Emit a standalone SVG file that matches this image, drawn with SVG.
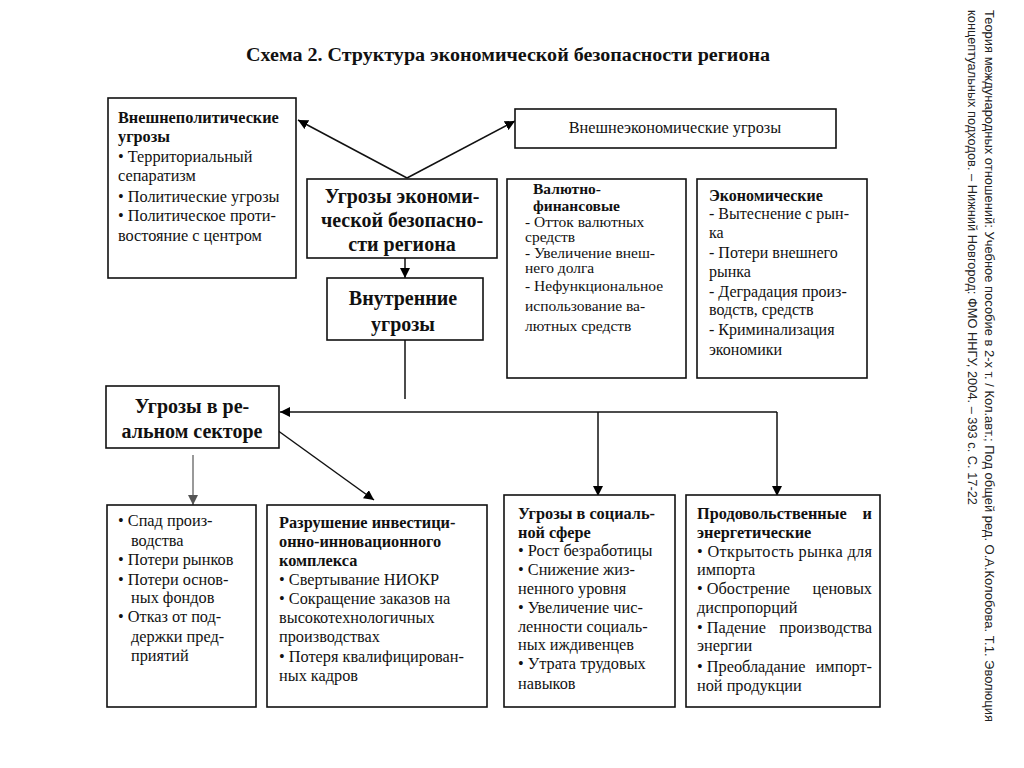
<svg xmlns="http://www.w3.org/2000/svg" width="1024" height="768" viewBox="0 0 1024 768">
<defs>
<marker id="ah" viewBox="0 0 10 10" refX="10" refY="5" markerWidth="10" markerHeight="10" markerUnits="userSpaceOnUse" orient="auto">
<path d="M0,0 L10,5 L0,10 z" fill="#000"/>
</marker>
<marker id="ahg" viewBox="0 0 10 10" refX="10" refY="5" markerWidth="10" markerHeight="10" markerUnits="userSpaceOnUse" orient="auto">
<path d="M0,0 L10,5 L0,10 z" fill="#555"/>
</marker>
</defs>
<style>
text{font-family:"Liberation Serif","Times New Roman",serif;fill:#111;}
.box{fill:#fff;stroke:#111;stroke-width:1.6;}
.t{font-size:16.3px;}
.s{font-size:16px;}
.v{font-size:15.5px;}
.b{font-weight:bold;}
.big{font-size:20px;font-weight:bold;}
.c{text-anchor:middle;}
.ln{stroke:#111;stroke-width:1.5;fill:none;}
.side{font-family:"Liberation Sans",Arial,sans-serif;font-size:12.5px;fill:#222;}
</style>
<rect width="1024" height="768" fill="#fff"/>
<text x="508" y="61" class="c b" font-size="18" textLength="524" lengthAdjust="spacingAndGlyphs">Схема 2. Структура экономической безопасности региона</text>

<g id="connectors">
<line class="ln" x1="407" y1="178" x2="298" y2="120" marker-end="url(#ah)"/>
<line class="ln" x1="407" y1="178" x2="515" y2="121" marker-end="url(#ah)"/>
<line class="ln" x1="405" y1="258" x2="405" y2="278" marker-end="url(#ah)"/>
<line class="ln" x1="405" y1="340" x2="405" y2="399"/>
<line class="ln" x1="777" y1="412" x2="280" y2="412" marker-end="url(#ah)"/>
<line class="ln" x1="598" y1="412" x2="598" y2="496" marker-end="url(#ah)"/>
<line class="ln" x1="777" y1="412" x2="777" y2="496" marker-end="url(#ah)"/>
<line x1="193" y1="455" x2="193" y2="505" stroke="#777" stroke-width="1.5" marker-end="url(#ahg)"/>
<line class="ln" x1="277" y1="430" x2="374" y2="500" marker-end="url(#ah)"/>
</g>

<g id="foreign-political">
<rect class="box" x="108" y="98" width="188" height="180"/>
<text class="t b" x="118" y="123">Внешнеполитические</text>
<text class="t b" x="118" y="142">угрозы</text>
<text class="t" x="118" y="162">• Территориальный</text>
<text class="t" x="118" y="181">сепаратизм</text>
<text class="t" x="118" y="202">• Политические угрозы</text>
<text class="t" x="118" y="221">• Политическое проти-</text>
<text class="t" x="118" y="241">востояние с центром</text>
</g>

<g id="main">
<rect class="box" x="307" y="179" width="190" height="79"/>
<text class="big c" x="402" y="203">Угрозы экономи-</text>
<text class="big c" x="402" y="227">ческой безопасно-</text>
<text class="big c" x="402" y="251">сти региона</text>
</g>

<g id="foreign-economic">
<rect class="box" x="515" y="109" width="321" height="39"/>
<text class="t c" x="675" y="133">Внешнеэкономические угрозы</text>
</g>

<g id="currency">
<rect class="box" x="507" y="179" width="179" height="199"/>
<text class="v b" x="533" y="194">Валютно-</text>
<text class="v b" x="533" y="211">финансовые</text>
<text class="v" x="525" y="227">- Отток валютных</text>
<text class="v" x="525" y="242">средств</text>
<text class="v" x="525" y="258">- Увеличение внеш-</text>
<text class="v" x="525" y="273">него долга</text>
<text class="v" x="525" y="291">- Нефункциональное</text>
<text class="v" x="525" y="311">использование ва-</text>
<text class="v" x="525" y="331">лютных средств</text>
</g>

<g id="economic">
<rect class="box" x="697" y="179" width="170" height="199"/>
<text class="s b" x="709" y="201">Экономические</text>
<text class="s" x="709" y="219">- Вытеснение с рын-</text>
<text class="s" x="709" y="238">ка</text>
<text class="s" x="709" y="258">- Потери внешнего</text>
<text class="s" x="709" y="277">рынка</text>
<text class="s" x="709" y="297">- Деградация произ-</text>
<text class="s" x="709" y="315">водств, средств</text>
<text class="s" x="709" y="335">- Криминализация</text>
<text class="s" x="709" y="355">экономики</text>
</g>

<g id="internal">
<rect class="box" x="327" y="278" width="156" height="62"/>
<text class="big c" x="403" y="305">Внутренние</text>
<text class="big c" x="403" y="331">угрозы</text>
</g>

<g id="real-sector">
<rect class="box" x="106" y="386" width="173" height="62"/>
<text class="big c" x="192" y="413">Угрозы в ре-</text>
<text class="big c" x="192" y="438">альном секторе</text>
</g>

<g id="box-a">
<rect class="box" x="107" y="505" width="149" height="202"/>
<text class="t" x="118" y="526">• Спад произ-</text>
<text class="t" x="131" y="546">водства</text>
<text class="t" x="118" y="565">• Потери рынков</text>
<text class="t" x="118" y="585">• Потери основ-</text>
<text class="t" x="131" y="603">ных фондов</text>
<text class="t" x="118" y="622">• Отказ от под-</text>
<text class="t" x="131" y="642">держки пред-</text>
<text class="t" x="131" y="661">приятий</text>
</g>

<g id="box-b">
<rect class="box" x="267" y="505" width="220" height="202"/>
<text class="t b" x="279" y="528">Разрушение инвестици-</text>
<text class="t b" x="279" y="547">онно-инновационного</text>
<text class="t b" x="279" y="566">комплекса</text>
<text class="t" x="279" y="585">• Свертывание НИОКР</text>
<text class="t" x="279" y="604">• Сокращение заказов на</text>
<text class="t" x="279" y="623">высокотехнологичных</text>
<text class="t" x="279" y="642">производствах</text>
<text class="t" x="279" y="662">• Потеря квалифицирован-</text>
<text class="t" x="279" y="681">ных кадров</text>
</g>

<g id="box-c">
<rect class="box" x="504" y="495" width="171" height="212"/>
<text class="t b" x="518" y="519">Угрозы в социаль-</text>
<text class="t b" x="518" y="538">ной сфере</text>
<text class="t" x="518" y="556">• Рост безработицы</text>
<text class="t" x="518" y="575">• Снижение жиз-</text>
<text class="t" x="518" y="594">ненного  уровня</text>
<text class="t" x="518" y="613">• Увеличение чис-</text>
<text class="t" x="518" y="632">ленности социаль-</text>
<text class="t" x="518" y="650">ных иждивенцев</text>
<text class="t" x="518" y="669">• Утрата трудовых</text>
<text class="t" x="518" y="689">навыков</text>
</g>

<g id="box-d">
<rect class="box" x="686" y="495" width="194" height="212"/>
<text class="t b" x="697" y="519">Продовольственные</text>
<text class="t b" x="872" y="519" text-anchor="end">и</text>
<text class="t b" x="697" y="538">энергетические</text>
<text class="t" x="697" y="557" textLength="175" lengthAdjust="spacing">• Открытость рынка для</text>
<text class="t" x="697" y="575">импорта</text>
<text class="t" x="697" y="594">• Обострение</text>
<text class="t" x="872" y="594" text-anchor="end">ценовых</text>
<text class="t" x="697" y="613">диспропорций</text>
<text class="t" x="697" y="633">• Падение</text>
<text class="t" x="872" y="633" text-anchor="end">производства</text>
<text class="t" x="697" y="651">энергии</text>
<text class="t" x="697" y="672">• Преобладание</text>
<text class="t" x="872" y="672" text-anchor="end">импорт-</text>
<text class="t" x="697" y="691">ной продукции</text>
</g>

<g id="source">
<text class="side" transform="translate(985,10) rotate(90)" textLength="712" lengthAdjust="spacingAndGlyphs">Теория международных отношений: Учебное пособие в 2-х т. / Кол.авт.; Под общей ред. О.А.Колобова. Т.1. Эволюция</text>
<text class="side" transform="translate(968,10) rotate(90)" textLength="495" lengthAdjust="spacingAndGlyphs">концептуальных подходов. – Нижний Новгород: ФМО ННГУ, 2004. – 393 с. С. 17-22</text>
</g>
</svg>
